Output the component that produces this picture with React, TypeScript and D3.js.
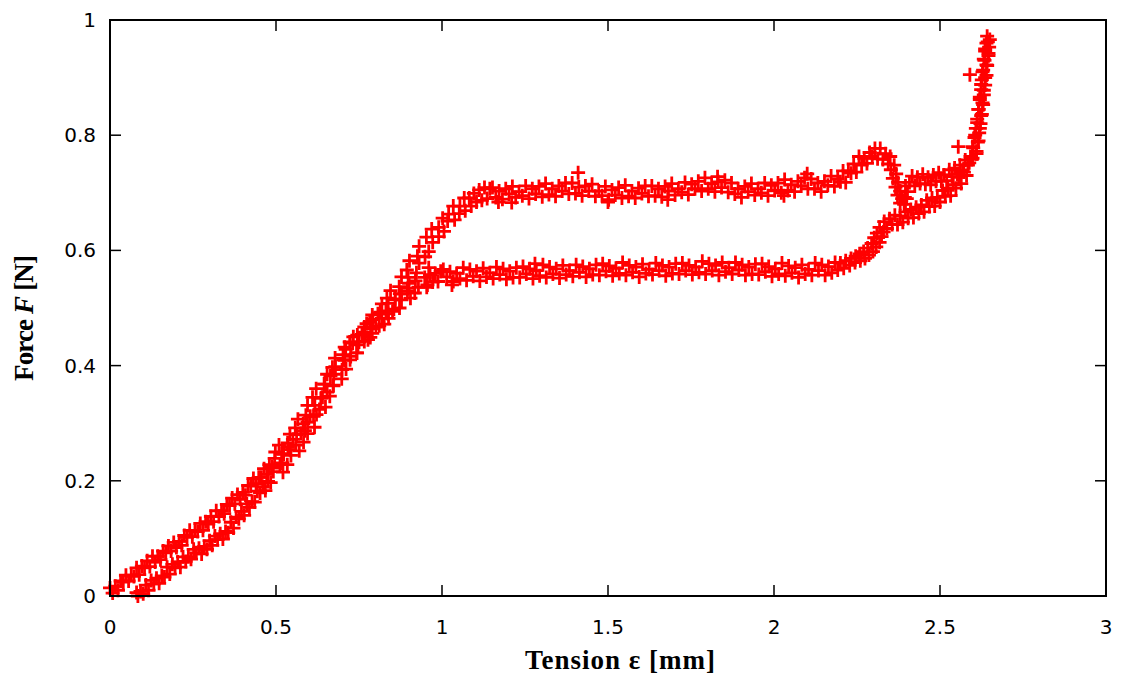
import * as d3 from 'd3';

// x = tension [mm], y = force [N] (the data band is a cloud of crosses)
const loadingBranch: [number, number][] = [
  [0.000, 0.014], [0.008, 0.005], [0.016, 0.017], [0.024, 0.010], [0.032, 0.026], [0.040, 0.024], [0.048, 0.036],
  [0.056, 0.026], [0.064, 0.036], [0.072, 0.034], [0.080, 0.049], [0.088, 0.037], [0.096, 0.052], [0.104, 0.049],
  [0.112, 0.061], [0.120, 0.051], [0.128, 0.069], [0.136, 0.059], [0.144, 0.069], [0.152, 0.063], [0.160, 0.078],
  [0.168, 0.075], [0.176, 0.087], [0.184, 0.078], [0.192, 0.093], [0.200, 0.084], [0.208, 0.095], [0.216, 0.088],
  [0.224, 0.105], [0.232, 0.102], [0.240, 0.114], [0.248, 0.103], [0.256, 0.113], [0.264, 0.112], [0.272, 0.126],
  [0.280, 0.114], [0.288, 0.129], [0.296, 0.125], [0.304, 0.138], [0.312, 0.129], [0.320, 0.148], [0.328, 0.138],
  [0.336, 0.148], [0.344, 0.143], [0.352, 0.159], [0.360, 0.157], [0.368, 0.170], [0.376, 0.160], [0.384, 0.176],
  [0.392, 0.168], [0.400, 0.180], [0.408, 0.175], [0.416, 0.192], [0.424, 0.191], [0.432, 0.204], [0.440, 0.195],
  [0.448, 0.206], [0.456, 0.206], [0.464, 0.221], [0.472, 0.211], [0.480, 0.228], [0.488, 0.225], [0.496, 0.239],
  [0.519, 0.231], [0.498, 0.250], [0.523, 0.246], [0.509, 0.262], [0.542, 0.254], [0.535, 0.266], [0.560, 0.262],
  [0.542, 0.281], [0.562, 0.280], [0.558, 0.292], [0.587, 0.287], [0.566, 0.307], [0.595, 0.302], [0.590, 0.314],
  [0.613, 0.312], [0.595, 0.331], [0.631, 0.324], [0.610, 0.345], [0.635, 0.343], [0.621, 0.360], [0.654, 0.354],
  [0.647, 0.368], [0.672, 0.366], [0.654, 0.385], [0.674, 0.385], [0.670, 0.397], [0.699, 0.393], [0.678, 0.413],
  [0.707, 0.409], [0.702, 0.419], [0.725, 0.416], [0.707, 0.432], [0.743, 0.422], [0.722, 0.441], [0.747, 0.436],
  [0.733, 0.450], [0.766, 0.442], [0.759, 0.454], [0.784, 0.449], [0.766, 0.467], [0.786, 0.464], [0.782, 0.475],
  [0.811, 0.469], [0.790, 0.488], [0.819, 0.482], [0.814, 0.493], [0.837, 0.490], [0.819, 0.507], [0.855, 0.498],
  [0.834, 0.517], [0.859, 0.514], [0.845, 0.530], [0.878, 0.524], [0.871, 0.537], [0.896, 0.534], [0.878, 0.554],
  [0.898, 0.553], [0.894, 0.566], [0.923, 0.561], [0.902, 0.582], [0.931, 0.578], [0.926, 0.590], [0.949, 0.589],
  [0.931, 0.607], [0.960, 0.598], [0.953, 0.623], [0.972, 0.614], [0.969, 0.637], [0.990, 0.624], [0.990, 0.640],
  [1.006, 0.633], [1.002, 0.656], [1.017, 0.651], [1.020, 0.663], [1.038, 0.653], [1.034, 0.677], [1.052, 0.664],
  [1.054, 0.677], [1.070, 0.669], [1.067, 0.691], [1.082, 0.691], [1.088, 0.677], [1.096, 0.699], [1.104, 0.684],
  [1.112, 0.705], [1.120, 0.687], [1.128, 0.709], [1.136, 0.690], [1.144, 0.707],
  [1.152, 0.709], [1.162, 0.692], [1.172, 0.703], [1.182, 0.689], [1.192, 0.707], [1.202, 0.698], [1.212, 0.711],
  [1.222, 0.692], [1.232, 0.702], [1.242, 0.695], [1.252, 0.712], [1.262, 0.690], [1.272, 0.707], [1.282, 0.698],
  [1.292, 0.711], [1.302, 0.693], [1.312, 0.716], [1.322, 0.697], [1.332, 0.707], [1.342, 0.694], [1.352, 0.712],
  [1.362, 0.703], [1.372, 0.717], [1.382, 0.698], [1.392, 0.717], [1.402, 0.699], [1.412, 0.710], [1.422, 0.695],
  [1.432, 0.712], [1.442, 0.703], [1.452, 0.715], [1.462, 0.694], [1.472, 0.703], [1.482, 0.695], [1.492, 0.711],
  [1.502, 0.688], [1.512, 0.705], [1.522, 0.696], [1.532, 0.709], [1.542, 0.691], [1.552, 0.713], [1.562, 0.694],
  [1.572, 0.703], [1.582, 0.691], [1.592, 0.708], [1.602, 0.699], [1.612, 0.712], [1.622, 0.694], [1.632, 0.712],
  [1.642, 0.695], [1.652, 0.707], [1.662, 0.693], [1.672, 0.711], [1.682, 0.703], [1.692, 0.716], [1.702, 0.696],
  [1.712, 0.707], [1.722, 0.701], [1.732, 0.718], [1.742, 0.697], [1.752, 0.715], [1.762, 0.707], [1.772, 0.720],
  [1.782, 0.703], [1.792, 0.726], [1.802, 0.707], [1.812, 0.716], [1.822, 0.702], [1.832, 0.719], [1.842, 0.709],
  [1.852, 0.722], [1.862, 0.701], [1.872, 0.717], [1.882, 0.698], [1.892, 0.707], [1.902, 0.692], [1.912, 0.711],
  [1.922, 0.702], [1.932, 0.716], [1.942, 0.696], [1.952, 0.707], [1.962, 0.700], [1.972, 0.717], [1.982, 0.695],
  [1.992, 0.713], [2.002, 0.704], [2.012, 0.717], [2.022, 0.700], [2.032, 0.723], [2.042, 0.704], [2.052, 0.714],
  [2.062, 0.702], [2.072, 0.720], [2.082, 0.712], [2.092, 0.726], [2.102, 0.707], [2.112, 0.724], [2.122, 0.707],
  [2.132, 0.717], [2.142, 0.702], [2.152, 0.720], [2.162, 0.713], [2.172, 0.729], [2.182, 0.711], [2.192, 0.724],
  [2.200, 0.719], [2.208, 0.738], [2.216, 0.718], [2.224, 0.738], [2.232, 0.734], [2.240, 0.750], [2.248, 0.736],
  [2.256, 0.763], [2.264, 0.748], [2.272, 0.760], [2.280, 0.751], [2.288, 0.770], [2.296, 0.763], [2.304, 0.777],
  [2.312, 0.759], [2.320, 0.777], [2.328, 0.758], [2.336, 0.768], [2.344, 0.750], [2.350, 0.763],
  [2.362, 0.748], [2.352, 0.740], [2.368, 0.733], [2.358, 0.725], [2.374, 0.718], [2.366, 0.710], [2.380, 0.703],
  [2.372, 0.696], [2.386, 0.690], [2.380, 0.682], [2.392, 0.680], [2.394, 0.692], [2.402, 0.702], [2.396, 0.712],
  [2.408, 0.718], [2.416, 0.729], [2.424, 0.712], [2.432, 0.727], [2.440, 0.716], [2.448, 0.732], [2.456, 0.715],
  [2.464, 0.727], [2.472, 0.714], [2.480, 0.731], [2.488, 0.720], [2.496, 0.735], [2.504, 0.720], [2.512, 0.731],
  [2.520, 0.721], [2.528, 0.740], [2.536, 0.728], [2.544, 0.743], [2.552, 0.732], [2.560, 0.748], [2.568, 0.739],
  [2.576, 0.757], [2.584, 0.748], [2.592, 0.763], [2.598, 0.760],
  [2.610, 0.772], [2.598, 0.780], [2.614, 0.788], [2.604, 0.796], [2.618, 0.804], [2.608, 0.812], [2.622, 0.820],
  [2.612, 0.828], [2.626, 0.836], [2.616, 0.845], [2.630, 0.853], [2.620, 0.862], [2.632, 0.870], [2.624, 0.879],
  [2.636, 0.887], [2.626, 0.896], [2.640, 0.904], [2.630, 0.913], [2.642, 0.921], [2.634, 0.930], [2.646, 0.938],
  [2.636, 0.946], [2.648, 0.953], [2.640, 0.960], [2.650, 0.966], [2.642, 0.972],
];

const unloadingBranch: [number, number][] = [
  [2.644, 0.962], [2.636, 0.950], [2.646, 0.942], [2.632, 0.932], [2.640, 0.922], [2.628, 0.910], [2.636, 0.900],
  [2.624, 0.888], [2.632, 0.878], [2.620, 0.866], [2.628, 0.856], [2.616, 0.845], [2.624, 0.834], [2.612, 0.822],
  [2.620, 0.812], [2.606, 0.800], [2.616, 0.790], [2.600, 0.778], [2.610, 0.768], [2.596, 0.758],
  [2.588, 0.752], [2.580, 0.730], [2.572, 0.736], [2.564, 0.716], [2.556, 0.727], [2.548, 0.708], [2.540, 0.714],
  [2.532, 0.695], [2.524, 0.708], [2.516, 0.694], [2.508, 0.704], [2.500, 0.684], [2.492, 0.692], [2.484, 0.677],
  [2.476, 0.691], [2.468, 0.676], [2.460, 0.687], [2.452, 0.667], [2.444, 0.679], [2.436, 0.664], [2.428, 0.675],
  [2.420, 0.657], [2.412, 0.671], [2.404, 0.656], [2.396, 0.667], [2.388, 0.649], [2.380, 0.660], [2.372, 0.645],
  [2.364, 0.661], [2.356, 0.645], [2.348, 0.655], [2.340, 0.638], [2.332, 0.650],
  [2.330, 0.632], [2.318, 0.640], [2.324, 0.624], [2.310, 0.630], [2.318, 0.614], [2.302, 0.622], [2.308, 0.606],
  [2.294, 0.612], [2.298, 0.598], [2.282, 0.604], [2.286, 0.592], [2.270, 0.598], [2.274, 0.586], [2.258, 0.594],
  [2.260, 0.582], [2.246, 0.590], [2.244, 0.579], [2.232, 0.586], [2.228, 0.574], [2.216, 0.582], [2.210, 0.569],
  [2.200, 0.578], [2.192, 0.566],
  [2.184, 0.579], [2.174, 0.561], [2.164, 0.572], [2.154, 0.557], [2.144, 0.575], [2.134, 0.565], [2.124, 0.578],
  [2.114, 0.557], [2.104, 0.567], [2.094, 0.559], [2.084, 0.575], [2.074, 0.553], [2.064, 0.570], [2.054, 0.561],
  [2.044, 0.573], [2.034, 0.556], [2.024, 0.578], [2.014, 0.559], [2.004, 0.568], [1.994, 0.555], [1.984, 0.572],
  [1.974, 0.563], [1.964, 0.577], [1.954, 0.558], [1.944, 0.576], [1.934, 0.559], [1.924, 0.571], [1.914, 0.557],
  [1.904, 0.575], [1.894, 0.566], [1.884, 0.579], [1.874, 0.559], [1.864, 0.570], [1.854, 0.563], [1.844, 0.579],
  [1.834, 0.557], [1.824, 0.574], [1.814, 0.565], [1.804, 0.577], [1.794, 0.559], [1.784, 0.581], [1.774, 0.562],
  [1.764, 0.571], [1.754, 0.558], [1.744, 0.574], [1.734, 0.565], [1.724, 0.578], [1.714, 0.559], [1.704, 0.577],
  [1.694, 0.560], [1.684, 0.571], [1.674, 0.556], [1.664, 0.574], [1.654, 0.565], [1.644, 0.578], [1.634, 0.558],
  [1.624, 0.567], [1.614, 0.560], [1.604, 0.576], [1.594, 0.554], [1.584, 0.571], [1.574, 0.562], [1.564, 0.574],
  [1.554, 0.557], [1.544, 0.579], [1.534, 0.560], [1.524, 0.569], [1.514, 0.556], [1.504, 0.573], [1.494, 0.564],
  [1.484, 0.577], [1.474, 0.557], [1.464, 0.575], [1.454, 0.558], [1.444, 0.568], [1.434, 0.554], [1.424, 0.572],
  [1.414, 0.562], [1.404, 0.575], [1.394, 0.555], [1.384, 0.565], [1.374, 0.558], [1.364, 0.574], [1.354, 0.552],
  [1.344, 0.568], [1.334, 0.559], [1.324, 0.571], [1.314, 0.553], [1.304, 0.575], [1.294, 0.556], [1.284, 0.565],
  [1.274, 0.551], [1.264, 0.568], [1.254, 0.559], [1.244, 0.572], [1.234, 0.553], [1.224, 0.570], [1.214, 0.553],
  [1.204, 0.564], [1.194, 0.550], [1.184, 0.568], [1.174, 0.558], [1.164, 0.571], [1.154, 0.551], [1.144, 0.561],
  [1.134, 0.554], [1.124, 0.569], [1.114, 0.547], [1.104, 0.564], [1.094, 0.555], [1.084, 0.567], [1.074, 0.548],
  [1.064, 0.570], [1.054, 0.551], [1.044, 0.560], [1.034, 0.546], [1.024, 0.563], [1.014, 0.554], [1.004, 0.567],
  [0.996, 0.564], [0.988, 0.546], [0.980, 0.560], [0.972, 0.545], [0.964, 0.558], [0.956, 0.540], [0.948, 0.553],
  [0.954, 0.536], [0.920, 0.547], [0.929, 0.536], [0.901, 0.543], [0.918, 0.526], [0.896, 0.529], [0.905, 0.517],
  [0.873, 0.525], [0.878, 0.514], [0.859, 0.516], [0.872, 0.500], [0.838, 0.508], [0.851, 0.494], [0.831, 0.495],
  [0.839, 0.482], [0.807, 0.490], [0.826, 0.472], [0.792, 0.480], [0.801, 0.467], [0.773, 0.473], [0.790, 0.456],
  [0.768, 0.458], [0.777, 0.445], [0.745, 0.453], [0.750, 0.441], [0.731, 0.439], [0.744, 0.422], [0.710, 0.428],
  [0.723, 0.410], [0.703, 0.410], [0.711, 0.394], [0.679, 0.398], [0.698, 0.377], [0.664, 0.382], [0.673, 0.365],
  [0.645, 0.368], [0.662, 0.347], [0.640, 0.345], [0.649, 0.328], [0.617, 0.331], [0.622, 0.315], [0.603, 0.312],
  [0.616, 0.293], [0.582, 0.299], [0.595, 0.282], [0.575, 0.282], [0.583, 0.267], [0.551, 0.272], [0.570, 0.252],
  [0.536, 0.258], [0.545, 0.244], [0.517, 0.247], [0.534, 0.228], [0.512, 0.229], [0.521, 0.215], [0.489, 0.222],
  [0.492, 0.216], [0.484, 0.197], [0.476, 0.199], [0.468, 0.183], [0.460, 0.190], [0.452, 0.179], [0.444, 0.182],
  [0.436, 0.163], [0.428, 0.164], [0.420, 0.154], [0.412, 0.160], [0.404, 0.140], [0.396, 0.147], [0.388, 0.134],
  [0.380, 0.137], [0.372, 0.118], [0.364, 0.128], [0.356, 0.110], [0.348, 0.112], [0.340, 0.099], [0.332, 0.108],
  [0.324, 0.098], [0.316, 0.104], [0.308, 0.088], [0.300, 0.096], [0.292, 0.081], [0.284, 0.086], [0.276, 0.073],
  [0.268, 0.083], [0.260, 0.075], [0.252, 0.081], [0.244, 0.064], [0.236, 0.068], [0.228, 0.060], [0.220, 0.068],
  [0.212, 0.050], [0.204, 0.059], [0.196, 0.049], [0.188, 0.055], [0.180, 0.038], [0.172, 0.050], [0.164, 0.033],
  [0.156, 0.035], [0.148, 0.022], [0.140, 0.031], [0.132, 0.021], [0.124, 0.027], [0.116, 0.010], [0.108, 0.019],
  [0.100, 0.004], [0.092, 0.008], [0.084, 0.000], [0.080, 0.006],
];

// stray crosses sitting off the main bands
const strayPoints: [number, number][] = [
  [1.410, 0.735], [1.210, 0.683], [1.500, 0.684], [1.170, 0.684], [1.680, 0.688], [1.830, 0.728],
  [2.100, 0.733], [2.030, 0.695], [2.590, 0.905], [2.555, 0.780], [2.400, 0.690], [1.030, 0.540],
  [0.960, 0.570], [1.280, 0.577],
];

const xTicks = [0, 0.5, 1, 1.5, 2, 2.5, 3];
const yTicks = [0, 0.2, 0.4, 0.6, 0.8, 1];

const W = 1121;
const H = 677;
const margin = { left: 110, right: 15, top: 20, bottom: 81 };

export default function App() {
  const x = d3.scaleLinear().domain([0, 3]).range([margin.left, W - margin.right]);
  const y = d3.scaleLinear().domain([0, 1]).range([H - margin.bottom, margin.top]);
  const fmt = d3.format('~g');

  const allPoints = loadingBranch.concat(unloadingBranch, strayPoints);
  const s = 7;
  const tickLen = 11;

  return (
    <svg width={W} height={H} style={{ position: 'absolute', left: 0, top: 0, background: '#fff' }}>
      {/* data */}
      <g stroke="#ff0000" strokeWidth={2.8} fill="none">
        {allPoints.map((d, i) => {
          const px = x(d[0]);
          const py = y(d[1]);
          return <path key={i} d={`M${px - s},${py}H${px + s}M${px},${py - s}V${py + s}`} />;
        })}
      </g>

      {/* ticks, mirrored on all sides */}
      <g stroke="#000" strokeWidth={1.5}>
        {xTicks.map((t) => (
          <g key={'x' + t}>
            <line x1={x(t)} x2={x(t)} y1={y(0)} y2={y(0) - tickLen} />
            <line x1={x(t)} x2={x(t)} y1={y(1)} y2={y(1) + tickLen} />
          </g>
        ))}
        {yTicks.map((t) => (
          <g key={'y' + t}>
            <line x1={x(0)} x2={x(0) + tickLen} y1={y(t)} y2={y(t)} />
            <line x1={x(3)} x2={x(3) - tickLen} y1={y(t)} y2={y(t)} />
          </g>
        ))}
      </g>
      <rect x={x(0)} y={y(1)} width={x(3) - x(0)} height={y(0) - y(1)} fill="none" stroke="#000" strokeWidth={2} />

      {/* tick labels */}
      <g fontFamily="DejaVu Sans, Verdana, sans-serif" fontSize={20} fill="#000">
        {xTicks.map((t) => (
          <text key={'xl' + t} x={x(t)} y={y(0) + 38} textAnchor="middle">{fmt(t)}</text>
        ))}
        {yTicks.map((t) => (
          <text key={'yl' + t} x={x(0) - 14} y={y(t) + 7} textAnchor="end">{fmt(t)}</text>
        ))}
      </g>

      {/* axis titles */}
      <text x={620} y={669} textAnchor="middle" fontFamily="Liberation Serif, Times New Roman, serif"
        fontWeight="bold" fontSize={27} textLength={190} lengthAdjust="spacing">Tension ε [mm]</text>
      <text transform={`translate(33, 318) rotate(-90)`} textAnchor="middle"
        fontFamily="Liberation Serif, Times New Roman, serif" fontWeight="bold" fontSize={27}
        textLength={126} lengthAdjust="spacing">
        Force <tspan fontStyle="italic">F</tspan> [N]
      </text>
    </svg>
  );
}
